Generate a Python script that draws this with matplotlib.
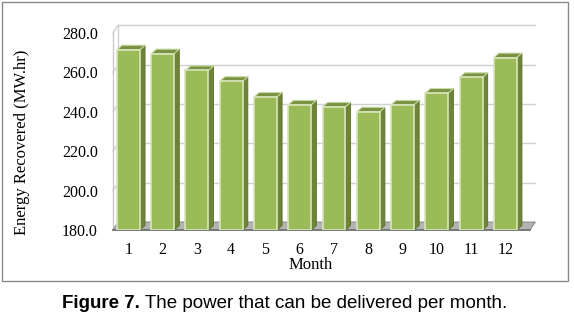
import matplotlib
matplotlib.use("Agg")
import matplotlib.pyplot as plt
from matplotlib.patches import Polygon, Rectangle
import numpy as np

months = [str(i) for i in range(1, 13)]
energy = [271.5, 269.5, 261.0, 255.5, 247.5, 243.5, 242.5, 240.0, 243.5, 249.5, 257.5, 267.5]
yticks = [180.0, 200.0, 220.0, 240.0, 260.0, 280.0]
ylabel = "Energy Recovered (MW.hr)"
xlabel = "Month"
caption_bold = "Figure 7."
caption_rest = " The power that can be delivered per month."

fig = plt.figure(figsize=(5.74, 3.19), dpi=100)
fig.patch.set_facecolor("white")
fig.patches.append(Rectangle((2/574, 1-281/319), 566/574, 279/319, transform=fig.transFigure,
                             fill=False, edgecolor="#8a8a8a", lw=1.0))

ax = fig.add_axes([113/574, 1-230/319, 417/574, 197/319])
ax.set_xlim(0.55, 12.72)
ax.set_ylim(180, 280)
x = np.arange(1, 13)
w = 0.67
# offsets for pseudo-3D
bdx, bdy = 0.15, 2.3     # bars
gdx, gdy = 0.15, 4.0     # back wall

serif = "Liberation Serif"

# back gridlines
for t in yticks:
    ax.plot([0.55 + gdx, 12.72 + gdx], [t + gdy, t + gdy], color="#d0d0d0", lw=1.0, clip_on=False, zorder=0)
    ax.plot([0.55, 0.55 + gdx], [t, t + gdy], color="#d0d0d0", lw=1.0, clip_on=False, zorder=0)
# left wall
ax.plot([0.55 + gdx, 0.55 + gdx], [180 + gdy, 280 + gdy], color="#d0d0d0", lw=1.0, clip_on=False, zorder=0)
ax.plot([0.55, 0.55], [180, 280], color="#c8c8c8", lw=1.0, clip_on=False, zorder=0)
# floor
floor = Polygon([[0.55, 180], [12.72, 180], [12.72 + gdx, 180 + gdy], [0.55 + gdx, 180 + gdy]],
                closed=True, facecolor="#b4b4b4", edgecolor="#8f8f8f", lw=0.8, clip_on=False, zorder=1)
ax.add_patch(floor)
ax.plot([0.55, 12.72], [180, 180], color="#6f6f6f", lw=1.2, clip_on=False, zorder=1.5)

# bars
bars = ax.bar(x, [v - 180 for v in energy], bottom=180, width=w, color="#9bbb59",
              edgecolor="#d8e6bc", lw=1.2, zorder=3)
for xi, v in zip(x, energy):
    r = xi + w / 2
    l = xi - w / 2
    side = Polygon([[r, 180], [r + bdx, 180 + bdy], [r + bdx, v + bdy], [r, v]], closed=True,
                   facecolor="#6e8537", edgecolor="#5a6e2c", lw=0.6, zorder=2.9, clip_on=False)
    top = Polygon([[l, v], [r, v], [r + bdx, v + bdy], [l + bdx, v + bdy]], closed=True,
                  facecolor="#7a9343", edgecolor="#c9dba5", lw=0.8, zorder=2.95, clip_on=False)
    ax.add_patch(side)
    ax.add_patch(top)

for s in ax.spines.values():
    s.set_visible(False)
ax.set_yticks(yticks)
ax.set_yticklabels([f"{t:.1f}" for t in yticks], fontfamily=serif, fontsize=11.5)
ax.set_xticks(x)
ax.set_xticklabels(months, fontfamily=serif, fontsize=11.5)
ax.tick_params(length=0)
ax.tick_params(axis="y", pad=11)
ax.tick_params(axis="x", pad=9)
ax.set_facecolor("none")

fig.text(22/574, 1-142/319, ylabel, rotation=90, ha="center", va="center", fontfamily=serif, fontsize=12)
fig.text(311/574, 1-265/319, xlabel, ha="center", va="center", fontfamily=serif, fontsize=12)

t1 = fig.text(62/574, 1-303/319, caption_bold, ha="left", va="center", fontfamily="Liberation Sans",
              fontweight="bold", fontsize=13.5)
fig.canvas.draw()
bb = t1.get_window_extent()
fig.text(bb.x1 / fig.bbox.width, 1-303/319, caption_rest, ha="left", va="center",
         fontfamily="Liberation Sans", fontsize=13.5)

fig.savefig("out.png", dpi=100, facecolor="white")
